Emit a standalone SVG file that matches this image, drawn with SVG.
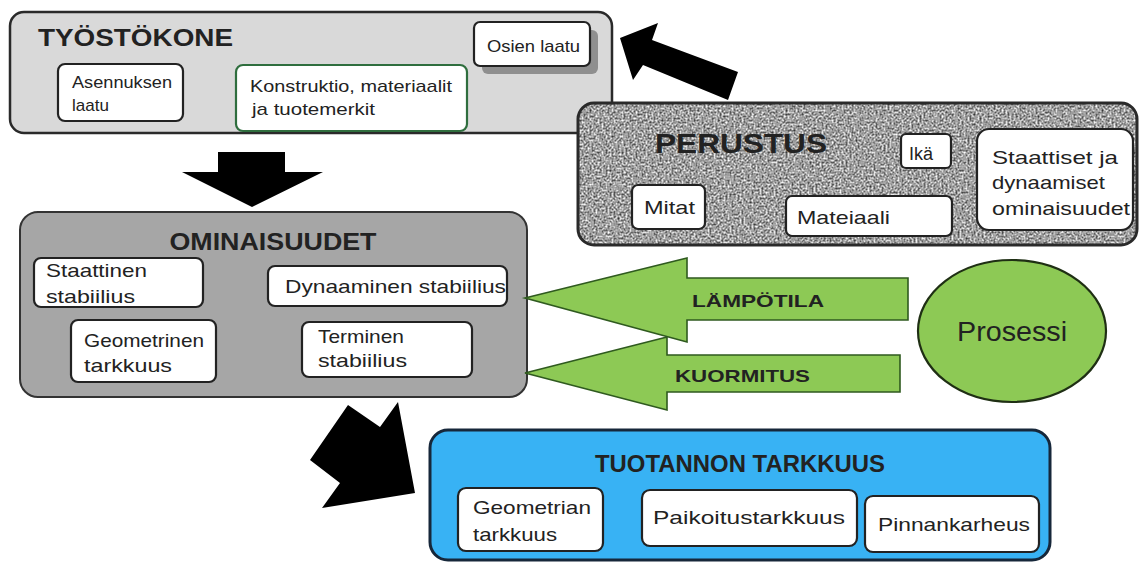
<svg xmlns="http://www.w3.org/2000/svg" width="1139" height="562" viewBox="0 0 1139 562">
<defs>
<style>
text{font-family:"Liberation Sans",Arial,sans-serif;fill:#222;}
.b{font-weight:bold;}
.box{fill:#fff;stroke:#222;stroke-width:2.2;}
.arrowK{fill:#000;}
.arrowG{fill:#8dc955;stroke:#2f5a1f;stroke-width:1.6;}
</style>
<filter id="noise" x="0" y="0" width="100%" height="100%" color-interpolation-filters="sRGB">
<feTurbulence type="fractalNoise" baseFrequency="0.5" numOctaves="3" seed="4" result="t"/>
<feColorMatrix in="t" type="matrix" values="1.25 0 0 0 0.0  1.25 0 0 0 0.0  1.25 0 0 0 0.0  0 0 0 0 1" result="g"/>
<feComposite in="g" in2="SourceGraphic" operator="in"/>
</filter>
</defs>
<rect width="1139" height="562" fill="#fff"/>

<g id="tyostokone">
<rect x="10" y="12" width="602" height="121" rx="14" fill="#d9d9d9" stroke="#2a2a2a" stroke-width="2.5"/>
<text class="b" x="38" y="46" font-size="24" textLength="195" lengthAdjust="spacingAndGlyphs">TYÖSTÖKONE</text>
</g>
<g id="osien-laatu">
<rect x="482" y="30" width="116" height="44" rx="6" fill="#8f8f8f"/>
<rect class="box" x="474" y="22" width="116" height="44" rx="6"/>
<text x="487" y="52" font-size="17" textLength="93" lengthAdjust="spacingAndGlyphs">Osien laatu</text>
</g>
<g id="asennuksen-laatu">
<rect class="box" x="58" y="64" width="125" height="57" rx="7"/>
<text x="72" y="88" font-size="17" textLength="100" lengthAdjust="spacingAndGlyphs">Asennuksen</text>
<text x="72" y="111" font-size="17">laatu</text>
</g>
<g id="konstruktio">
<rect x="236" y="65" width="231" height="66" rx="7" fill="#fff" stroke="#2f6e3e" stroke-width="2.2"/>
<text x="250" y="92" font-size="17" textLength="202" lengthAdjust="spacingAndGlyphs">Konstruktio, materiaalit</text>
<text x="252" y="115" font-size="17" textLength="123" lengthAdjust="spacingAndGlyphs">ja tuotemerkit</text>
</g>

<g id="perustus">
<rect x="578" y="103" width="559" height="142" rx="16" fill="#999" filter="url(#noise)"/>
<rect x="578" y="103" width="559" height="142" rx="16" fill="none" stroke="#2a2a2a" stroke-width="3"/>
<text class="b" x="655" y="153" font-size="28" textLength="172" lengthAdjust="spacingAndGlyphs" fill="#111">PERUSTUS</text>
</g>
<g id="ika">
<rect class="box" x="901" y="134" width="50" height="34" rx="5"/>
<text x="909" y="160" font-size="18">Ikä</text>
</g>
<g id="staattiset">
<rect class="box" x="977" y="129" width="156" height="101" rx="12"/>
<text x="992" y="164" font-size="19" textLength="126" lengthAdjust="spacingAndGlyphs">Staattiset ja</text>
<text x="992" y="189" font-size="19" textLength="113" lengthAdjust="spacingAndGlyphs">dynaamiset</text>
<text x="992" y="215" font-size="19" textLength="138" lengthAdjust="spacingAndGlyphs">ominaisuudet</text>
</g>
<g id="mitat">
<rect class="box" x="632" y="185" width="73" height="44" rx="6"/>
<text x="644" y="214" font-size="19" textLength="51" lengthAdjust="spacingAndGlyphs">Mitat</text>
</g>
<g id="mateiaali">
<rect class="box" x="786" y="196" width="166" height="40" rx="6"/>
<text x="797" y="224" font-size="19" textLength="93" lengthAdjust="spacingAndGlyphs">Mateiaali</text>
</g>

<g id="ominaisuudet">
<rect x="20" y="212" width="507" height="185" rx="18" fill="#a6a6a6" stroke="#333" stroke-width="2"/>
<text class="b" x="273" y="250" font-size="24" text-anchor="middle" textLength="207" lengthAdjust="spacingAndGlyphs" fill="#111">OMINAISUUDET</text>
</g>
<g id="staattinen">
<rect class="box" x="34" y="258" width="169" height="49" rx="7"/>
<text x="46" y="277" font-size="19" textLength="101" lengthAdjust="spacingAndGlyphs">Staattinen</text>
<text x="46" y="303" font-size="19" textLength="89" lengthAdjust="spacingAndGlyphs">stabiilius</text>
</g>
<g id="dynaaminen">
<rect class="box" x="268" y="266" width="239" height="40" rx="7"/>
<text x="285" y="293" font-size="19" textLength="221" lengthAdjust="spacingAndGlyphs">Dynaaminen stabiilius</text>
</g>
<g id="geometrinen">
<rect class="box" x="71" y="320" width="145" height="62" rx="7"/>
<text x="84" y="347" font-size="19" textLength="120" lengthAdjust="spacingAndGlyphs">Geometrinen</text>
<text x="84" y="372" font-size="19" textLength="88" lengthAdjust="spacingAndGlyphs">tarkkuus</text>
</g>
<g id="terminen">
<rect class="box" x="302" y="322" width="170" height="55" rx="7"/>
<text x="318" y="343" font-size="19" textLength="86" lengthAdjust="spacingAndGlyphs">Terminen</text>
<text x="318" y="367" font-size="19" textLength="89" lengthAdjust="spacingAndGlyphs">stabiilius</text>
</g>

<g id="prosessi">
<ellipse cx="1012" cy="331" rx="94" ry="71" fill="#8dc955" stroke="#1f2f14" stroke-width="2.2"/>
<text x="1012" y="341" font-size="27" text-anchor="middle" textLength="110" lengthAdjust="spacingAndGlyphs" fill="#1b3a10">Prosessi</text>
</g>

<g id="tuotannon-tarkkuus">
<rect x="430" y="430" width="620" height="130" rx="18" fill="#38b2f4" stroke="#16273a" stroke-width="3"/>
<text class="b" x="740" y="472" font-size="23" text-anchor="middle" textLength="290" lengthAdjust="spacingAndGlyphs" fill="#0b2540">TUOTANNON TARKKUUS</text>
</g>
<g id="geometrian">
<rect class="box" x="458" y="488" width="145" height="63" rx="8"/>
<text x="473" y="514" font-size="19" textLength="118" lengthAdjust="spacingAndGlyphs">Geometrian</text>
<text x="473" y="541" font-size="19" textLength="84" lengthAdjust="spacingAndGlyphs">tarkkuus</text>
</g>
<g id="paikoitus">
<rect class="box" x="642" y="490" width="215" height="56" rx="8"/>
<text x="653" y="524" font-size="19" textLength="192" lengthAdjust="spacingAndGlyphs">Paikoitustarkkuus</text>
</g>
<g id="pinnankarheus">
<rect class="box" x="865" y="496" width="174" height="56" rx="8"/>
<text x="878" y="531" font-size="19" textLength="152" lengthAdjust="spacingAndGlyphs">Pinnankarheus</text>
</g>

<g id="connectors">
<polygon class="arrowK" points="620,38 658,23 652,40 738,72 728,100 643,65 633,80"/>
<polygon class="arrowK" points="218,152 285,152 285,172 323,172 252,207 182,172 218,172"/>
<polygon class="arrowK" points="348,405 380,427 398,402 415,493 322,508 340,483 310,460"/>
<polygon class="arrowG" points="525,298 687,258 687,278 908,278 908,320 687,320 687,342"/>
<text class="b" x="692" y="307" font-size="17" textLength="132" lengthAdjust="spacingAndGlyphs" fill="#1c2a10">LÄMPÖTILA</text>
<polygon class="arrowG" points="525,373 667,337 667,355 900,355 900,392 667,392 667,410"/>
<text class="b" x="675" y="382" font-size="17" textLength="135" lengthAdjust="spacingAndGlyphs" fill="#1c2a10">KUORMITUS</text>
</g>
</svg>
